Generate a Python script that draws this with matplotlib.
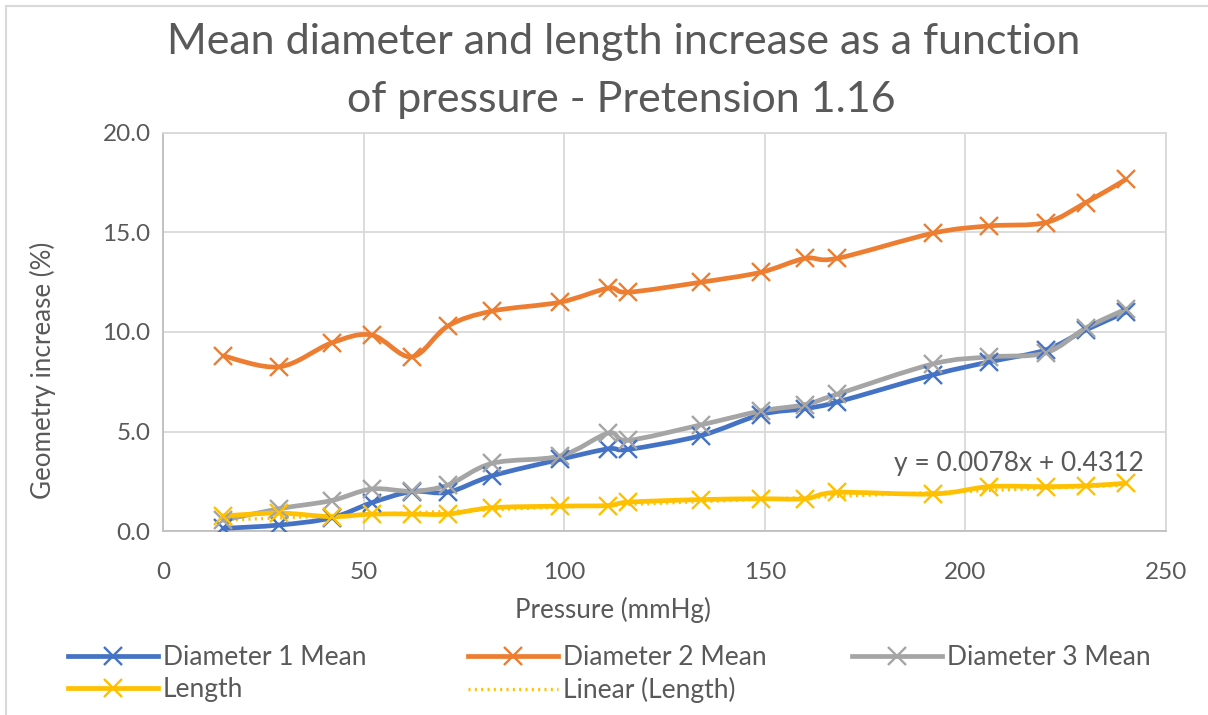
import numpy as np
import matplotlib
matplotlib.use("Agg")
import matplotlib.pyplot as plt
from matplotlib.path import Path
from matplotlib.patches import PathPatch, Rectangle
from matplotlib.lines import Line2D

plt.rcParams['font.family'] = ['Lato', 'DejaVu Sans']

# datos
pressure = [15, 29, 42, 52, 62, 71, 82, 99, 111, 116, 134, 149, 160, 168, 192, 206, 220, 230, 240]
diam1 = [0.13, 0.30, 0.66, 1.42, 1.98, 1.95, 2.77, 3.6, 4.13, 4.1, 4.79, 5.85, 6.15, 6.48, 7.85, 8.5, 9.1, 10.1, 11.0]
diam2 = [8.8, 8.25, 9.45, 9.85, 8.75, 10.3, 11.05, 11.5, 12.2, 12.0, 12.5, 13.0, 13.7, 13.7, 14.97, 15.33, 15.5, 16.5, 17.67]
diam3 = [0.54, 1.12, 1.53, 2.11, 2.0, 2.31, 3.4, 3.77, 4.92, 4.56, 5.33, 6.03, 6.35, 6.87, 8.4, 8.75, 8.95, 10.2, 11.15]
length = [0.76, 0.9, 0.72, 0.85, 0.85, 0.85, 1.17, 1.25, 1.28, 1.45, 1.58, 1.62, 1.62, 1.94, 1.86, 2.23, 2.23, 2.27, 2.4]

slope, intercept = 0.0078, 0.4312

names = ["Diameter 1 Mean", "Diameter 2 Mean", "Diameter 3 Mean", "Length"]
colors = ["#4472C4", "#ED7D31", "#A5A5A5", "#FFC000"]
txt = "#595959"
W, H = 1208, 715


def smooth_path(x, y):
    """Curva suavizada tipo Excel (Bezier cubica por tramos)."""
    p = np.column_stack([x, y]).astype(float)
    verts = [p[0]]
    codes = [Path.MOVETO]
    n = len(p)
    for i in range(n - 1):
        p0 = p[i - 1] if i > 0 else p[i]
        p3 = p[i + 2] if i + 2 < n else p[i + 1]
        c1 = p[i] + (p[i + 1] - p0) / 6
        c2 = p[i + 1] - (p3 - p[i]) / 6
        verts += [c1, c2, p[i + 1]]
        codes += [Path.CURVE4] * 3
    return Path(verts, codes)


fig = plt.figure(figsize=(W / 100, H / 100), dpi=100)
ax = fig.add_axes([163 / W, 1 - 531 / H, (1166 - 163) / W, (531 - 133) / H])

handles = []
for vals, name, c in zip([diam1, diam2, diam3, length], names, colors):
    ax.add_patch(PathPatch(smooth_path(pressure, vals), fill=False, edgecolor=c,
                           lw=3.4, capstyle='round', joinstyle='round', zorder=3))
    ax.plot(pressure, vals, ls='none', marker='x', ms=13, mew=1.7, color=c, zorder=4)
    handles.append(Line2D([], [], color=c, lw=3.4, marker='x', ms=13, mew=1.7))

xt = np.array([min(pressure), max(pressure)])
ax.plot(xt, slope * xt + intercept, ls=(0, (0.6, 1.3)), lw=2.4, color="#FFC000", zorder=2)
handles.append(Line2D([], [], color="#FFC000", lw=2.4, ls=(0, (0.6, 1.3))))

ax.text(244.5, 3.4, "y = 0.0078x + 0.4312", fontsize=19, color=txt, ha='right', va='center')

ax.set_xlim(0, 250)
ax.set_ylim(0, 20)
ax.set_xticks(np.arange(0, 251, 50))
ax.set_yticks(np.arange(0, 20.1, 5))
ax.set_yticklabels([f"{v:.1f}" for v in np.arange(0, 20.1, 5)])
ax.grid(True, color="#D9D9D9", lw=1.3)
ax.set_axisbelow(True)
for s in ['top', 'right']:
    ax.spines[s].set_color("#D9D9D9")
for s in ['left', 'bottom']:
    ax.spines[s].set_color("#BFBFBF")
for s in ax.spines.values():
    s.set_linewidth(1.3)
ax.tick_params(length=0, labelsize=17.5, labelcolor=txt)
ax.tick_params(axis='x', pad=22)
ax.tick_params(axis='y', pad=9)

fig.text(613 / W, 1 - 610 / H, "Pressure (mmHg)", fontsize=18.7, color=txt,
         ha='center', va='center')
fig.text(43 / W, 1 - 370 / H, "Geometry increase (%)", fontsize=18.7, color=txt,
         ha='center', va='center', rotation=90)

fig.text(624 / W, 1 - 42 / H, "Mean diameter and length increase as a function",
         fontsize=31, color=txt, ha='center', va='center')
fig.text(621 / W, 1 - 100 / H, "of pressure - Pretension 1.16",
         fontsize=31, color=txt, ha='center', va='center')

# leyenda: una columna por bloque para fijar las posiciones
cols = [([handles[0], handles[3]], [names[0], names[3]], 68),
        ([handles[1], handles[4]], [names[1], "Linear (Length)"], 468),
        ([handles[2]], [names[2]], 852)]
for hs, ls_, x0 in cols:
    leg = fig.legend(hs, ls_, loc='upper left', bbox_to_anchor=(x0 / W, 1 - 645 / H),
                     frameon=False, fontsize=19, labelcolor=txt, handlelength=3.4,
                     handletextpad=0.2, labelspacing=0.27, borderpad=0, borderaxespad=0)

fig.patches.append(Rectangle((6 / W, -0.1), 1.2, 1.1 - 6 / H, transform=fig.transFigure,
                             fill=False, edgecolor="#D9D9D9", lw=1.5))

fig.savefig("out.png", dpi=100)
